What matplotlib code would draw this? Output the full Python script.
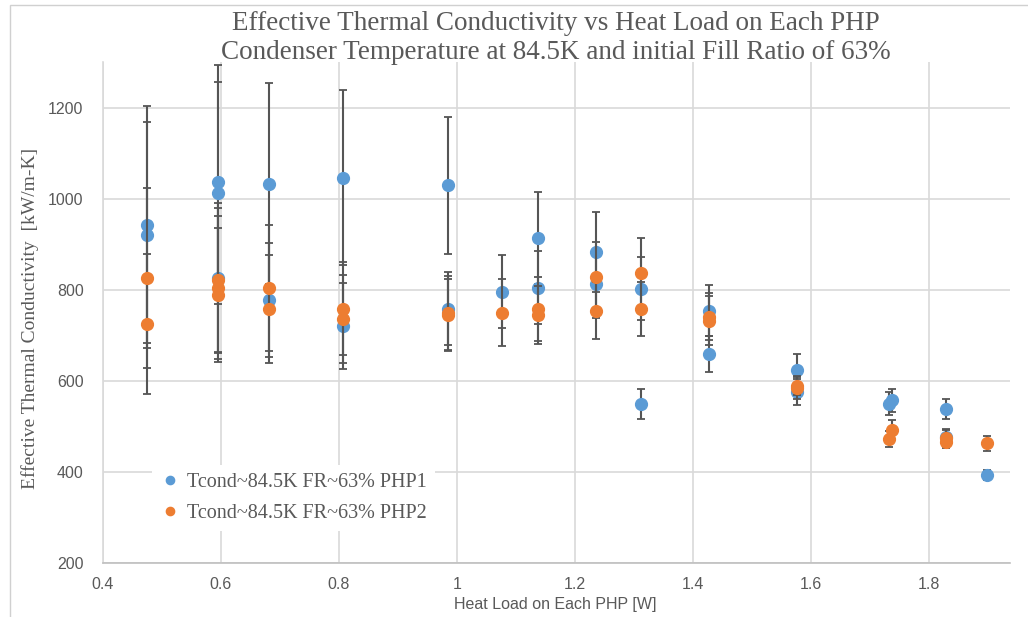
import matplotlib
matplotlib.use("Agg")
import matplotlib.pyplot as plt
from matplotlib.patches import Rectangle

# PHP1 (blue)
php1_x = [0.475, 0.475, 0.595, 0.595, 0.595, 0.681, 0.681, 0.807, 0.807, 0.985, 0.985,
          1.076, 1.137, 1.137, 1.236, 1.236, 1.312, 1.312, 1.427, 1.427, 1.576, 1.576,
          1.732, 1.737, 1.829, 1.829, 1.898]
php1_y = [943, 921, 1037, 1013, 826, 1033, 778, 1046, 721, 1029, 758,
          796, 914, 804, 883, 813, 802, 549, 754, 659, 624, 576,
          550, 557, 539, 476, 393]
php1_err = [260, 248, 257, 244, 164, 220, 125, 192, 94, 150, 80,
            81, 101, 80, 88, 74, 69, 32, 56, 39, 35, 28,
            26, 26, 22, 18, 11]

# PHP2 (orange)
php2_x = [0.475, 0.475, 0.595, 0.595, 0.595, 0.681, 0.681, 0.807, 0.807, 0.985, 0.985,
          1.076, 1.137, 1.137, 1.236, 1.236, 1.312, 1.312, 1.427, 1.427, 1.576, 1.576,
          1.732, 1.737, 1.829, 1.829, 1.898]
php2_y = [826, 725, 822, 804, 789, 804, 758, 758, 736, 749, 745,
          750, 758, 745, 829, 754, 837, 758, 741, 732, 589, 585,
          472, 493, 474, 465, 463]
php2_err = [198, 154, 158, 157, 147, 139, 119, 102, 97, 82, 79,
            73, 71, 64, 76, 62, 77, 60, 52, 54, 20, 26,
            18, 20, 18, 12, 16]

x_ticks = [0.4, 0.6, 0.8, 1.0, 1.2, 1.4, 1.6, 1.8]
x_tick_labels = ["0.4", "0.6", "0.8", "1", "1.2", "1.4", "1.6", "1.8"]
y_ticks = [200, 400, 600, 800, 1000, 1200]

label1 = "Tcond~84.5K FR~63% PHP1"
label2 = "Tcond~84.5K FR~63% PHP2"
title = "Effective Thermal Conductivity vs Heat Load on Each PHP\nCondenser Temperature at 84.5K and initial Fill Ratio of 63%"

W, H = 1028, 617
fig = plt.figure(figsize=(W / 100, H / 100), dpi=100)
fig.patch.set_facecolor("white")
# chart border
fig.patches.append(Rectangle((10 / W, -0.1), 1.2, 1 - 5 / H + 0.1, transform=fig.transFigure,
                             fill=False, edgecolor="#D0D0D0", linewidth=1.0))

AX_L, AX_R, AX_T, AX_B = 103, 1010, 62, 563
ax = fig.add_axes([AX_L / W, 1 - AX_B / H, (AX_R - AX_L) / W, (AX_B - AX_T) / H])
ax.set_xlim(0.4, 0.4 + (AX_R - AX_L) / 590.0)
ax.set_ylim(200, 1300)

ax.set_xticks(x_ticks)
ax.set_xticklabels(x_tick_labels)
ax.set_yticks(y_ticks)

sans = ["Liberation Sans", "DejaVu Sans"]
serif = ["Liberation Serif", "DejaVu Serif"]
tick_color = "#595959"
for lab in ax.get_xticklabels() + ax.get_yticklabels():
    lab.set_family(sans)
    lab.set_fontsize(11.5)
    lab.set_color(tick_color)
ax.tick_params(axis="x", length=0, pad=10)
ax.tick_params(axis="y", length=0, pad=14)

ax.grid(True, color="#D9D9D9", linewidth=1.2)
ax.set_axisbelow(True)
for s in ["top", "right"]:
    ax.spines[s].set_visible(False)
ax.spines["left"].set_color("#D9D9D9")
ax.spines["bottom"].set_color("#BFBFBF")
ax.spines["left"].set_linewidth(1.2)
ax.spines["bottom"].set_linewidth(1.2)

err_kw = dict(ecolor="#555555", elinewidth=1.5, capsize=3.0, capthick=1.3)
ax.errorbar(php1_x, php1_y, yerr=php1_err, fmt="o", color="#5B9BD5", markersize=8.5,
            markeredgecolor="#5B9BD5", label=label1, zorder=3, **err_kw)
ax.errorbar(php2_x, php2_y, yerr=php2_err, fmt="o", color="#ED7D31", markersize=8.5,
            markeredgecolor="#ED7D31", label=label2, zorder=4, **err_kw)

h, l = ax.get_legend_handles_labels()
h = [hh[0] for hh in h]
leg = ax.legend(h, l, loc="upper left",
                bbox_to_anchor=((152 - AX_L) / (AX_R - AX_L), (AX_B - 465) / (AX_B - AX_T)),
                frameon=True, prop={"family": serif, "size": 14.5}, handletextpad=0.35,
                handlelength=1.0, markerscale=0.7, labelspacing=0.6, borderpad=0.4,
                borderaxespad=0)
leg.get_frame().set_facecolor("white")
leg.get_frame().set_edgecolor("none")
leg.get_frame().set_alpha(1)
leg.set_zorder(5)
for t in leg.get_texts():
    t.set_color("#595959")

fig.text(556 / W, 1 - 38 / H, title, ha="center", va="center", family=serif,
         fontsize=19.5, color="#595959", linespacing=1.2)
fig.text(30 / W, 1 - 318 / H, "Effective Thermal Conductivity  [kW/m-K]", rotation=90,
         ha="center", va="center", family=serif, fontsize=14, color="#595959")
fig.text(555 / W, 1 - 605 / H, "Heat Load on Each PHP [W]", ha="center", va="center",
         family=sans, fontsize=11.5, color="#595959")

fig.savefig("out.png", dpi=100)
